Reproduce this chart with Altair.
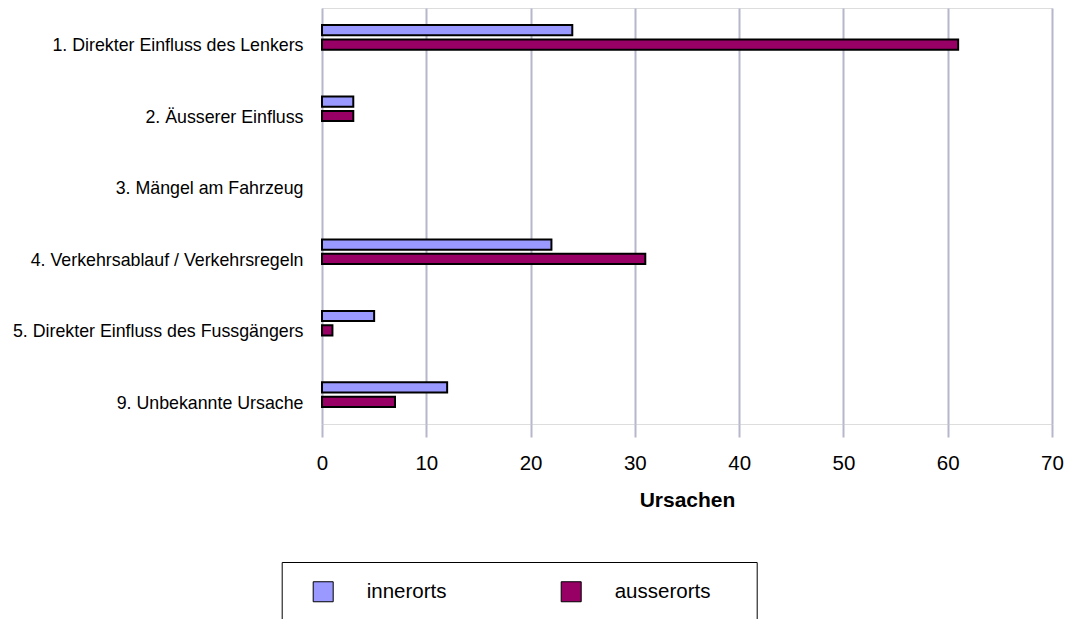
import altair as alt
import pandas as pd

categories = [
    "1. Direkter Einfluss des Lenkers",
    "2. Äusserer Einfluss",
    "3. Mängel am Fahrzeug",
    "4. Verkehrsablauf / Verkehrsregeln",
    "5. Direkter Einfluss des Fussgängers",
    "9. Unbekannte Ursache",
]
innerorts = [24, 3, 0, 22, 5, 12]
ausserorts = [61, 3, 0, 31, 1, 7]
series = ["innerorts", "ausserorts"]
colors = ["#9999FF", "#990066"]
x_ticks = [0, 10, 20, 30, 40, 50, 60, 70]

rows = []
for c, a, b in zip(categories, innerorts, ausserorts):
    rows.append({"Kategorie": c, "Serie": "innerorts", "Wert": a})
    rows.append({"Kategorie": c, "Serie": "ausserorts", "Wert": b})
df = pd.DataFrame(rows)

GRID = "#b6b6cc"
FONT = "Liberation Sans"

chart = (
    alt.Chart(df)
    .transform_filter("datum.Wert > 0")
    .mark_bar(stroke="black", strokeWidth=2)
    .encode(
        x=alt.X(
            "Wert:Q",
            scale=alt.Scale(domain=[0, 70], nice=False),
            axis=alt.Axis(
                values=x_ticks, title="Ursachen", domain=False,
                ticks=True, tickSize=13, tickColor=GRID, tickWidth=2,
                grid=True, gridColor=GRID, gridWidth=2,
                labelFont=FONT, labelFontSize=20.5, labelColor="black",
                labelPadding=16, labelFlush=False,
                titleFont=FONT, titleFontSize=21, titleFontWeight="bold",
                titleColor="black", titlePadding=16,
            ),
        ),
        y=alt.Y(
            "Kategorie:N",
            sort=categories,
            scale=alt.Scale(domain=categories, paddingInner=0.656, paddingOuter=0.239),
            axis=alt.Axis(
                title=None, domain=False, ticks=False, grid=False,
                labelFont=FONT, labelFontSize=17.8, labelColor="black",
                labelPadding=19, labelLimit=400, labelOffset=9,
            ),
        ),
        yOffset=alt.YOffset(
            "Serie:N",
            sort=series,
            scale=alt.Scale(domain=series, paddingInner=0.29, paddingOuter=0),
        ),
        color=alt.Color(
            "Serie:N",
            sort=series,
            scale=alt.Scale(domain=series, range=colors),
            legend=alt.Legend(
                title="\u00a0", orient="none", legendX=-40.3, legendY=554,
                direction="horizontal", strokeColor="black", fillColor="white",
                padding=19, symbolType="square", symbolSize=400,
                symbolStrokeColor="black", symbolStrokeWidth=1,
                symbolOffset=12, labelOffset=33, columnPadding=102,
                labelFont=FONT, labelFontSize=20.5, labelColor="black",
                titleOrient="right", titlePadding=27, titleFontSize=20,
            ),
        ),
    )
    .properties(
        width=730, height=416,
        autosize=alt.AutoSizeParams(type="none"),
        padding={"left": 314, "top": 0, "right": 12, "bottom": 195},
    )
    .configure_view(stroke=None)
    .configure(background="white", font=FONT)
)

chart.save("out.html", embed_options={"renderer": "svg", "actions": False})
